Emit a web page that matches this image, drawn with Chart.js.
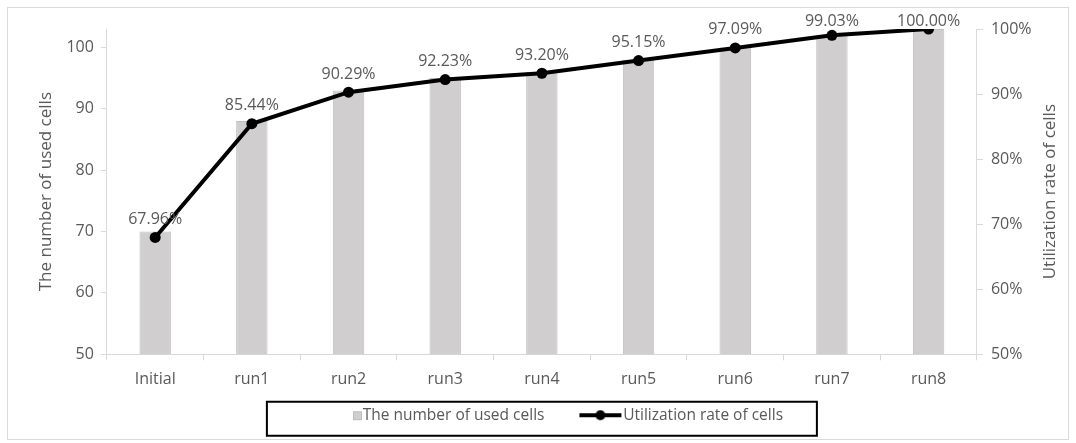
<!DOCTYPE html>
<html lang="en">
<head>
  <meta charset="UTF-8" />
  <title>Used cells and utilization rate</title>
  <script src="https://cdn.jsdelivr.net/npm/chart.js"></script>
  <style>
    html, body { margin: 0; padding: 0; background: #fff; }
    .quadro { position: absolute; left: 0; top: 0; width: 1076px; height: 443px; }
    .moldura { position: absolute; left: 7px; top: 7px; width: 1062px; height: 433px; border: 1px solid #d9d9d9; box-sizing: border-box; }
    .quadro canvas { position: absolute; left: 0; top: 0; }
  </style>
</head>
<body>
  <div class="quadro">
    <div class="moldura"></div>
    <canvas id="grafico" width="1076" height="443"></canvas>
  </div>

  <script>
    // dados
    const categorias = ['Initial', 'run1', 'run2', 'run3', 'run4', 'run5', 'run6', 'run7', 'run8'];
    const celulasUsadas = [70, 88, 93, 95, 96, 98, 100, 102, 103];
    const taxaUso = [67.96, 85.44, 90.29, 92.23, 93.20, 95.15, 97.09, 99.03, 100.00];
    const ticksEsquerda = [50, 60, 70, 80, 90, 100];
    const ticksDireita = [50, 60, 70, 80, 90, 100];

    const cinzaTexto = '#595959';
    const fonte = "'Open Sans', sans-serif";
    const larguraIcone = 68;

    // icones da legenda (mesma largura para os dois, como no excel)
    function iconeBarra() {
      const c = document.createElement('canvas');
      c.width = larguraIcone + 16; c.height = 12;
      const g = c.getContext('2d');
      g.fillStyle = '#d0cece';
      g.fillRect(74.5, 2.5, 8, 8);
      g.strokeStyle = '#bfbfbf';
      g.lineWidth = 1;
      g.strokeRect(74.5, 2.5, 8, 8);
      return c;
    }
    function iconeLinha() {
      const c = document.createElement('canvas');
      c.width = larguraIcone + 16; c.height = 12;
      const g = c.getContext('2d');
      g.strokeStyle = '#000';
      g.lineWidth = 4;
      g.beginPath(); g.moveTo(40, 6); g.lineTo(82, 6); g.stroke();
      g.fillStyle = '#000';
      g.beginPath(); g.arc(61, 6, 5, 0, Math.PI * 2); g.fill();
      return c;
    }

    // rotulos de porcentagem acima dos pontos
    const rotulosPlugin = {
      id: 'rotulos',
      afterDatasetsDraw(chart) {
        const meta = chart.getDatasetMeta(1);
        const ctx = chart.ctx;
        ctx.save();
        ctx.font = '16px ' + fonte;
        ctx.fillStyle = cinzaTexto;
        ctx.textAlign = 'center';
        ctx.textBaseline = 'middle';
        meta.data.forEach((p, i) => {
          ctx.fillText(taxaUso[i].toFixed(2) + '%', p.x, Math.max(p.y - 18, 21));
        });
        ctx.restore();
      }
    };

    // titulo do eixo direito lido de baixo para cima + caixa da legenda
    const extrasPlugin = {
      id: 'extras',
      afterDraw(chart) {
        const area = chart.chartArea;
        const ctx = chart.ctx;
        const eixo = chart.scales.y1;
        ctx.save();
        ctx.translate(eixo.right - 10, (area.top + area.bottom) / 2);
        ctx.rotate(-Math.PI / 2);
        ctx.font = '17px ' + fonte;
        ctx.fillStyle = cinzaTexto;
        ctx.textAlign = 'center';
        ctx.textBaseline = 'middle';
        ctx.fillText('Utilization rate of cells', 0, 0);
        ctx.restore();

        const lg = chart.legend;
        const cx = (area.left + area.right) / 2;
        const cy = lg.top + lg.height / 2;
        ctx.save();
        ctx.strokeStyle = '#000';
        ctx.lineWidth = 2;
        ctx.strokeRect(cx - 275, cy - 17, 550, 34);
        ctx.restore();
      }
    };

    const ctx = document.getElementById('grafico').getContext('2d');
    const grafico = new Chart(ctx, {
      data: {
        labels: categorias,
        datasets: [
          {
            type: 'bar',
            label: 'The number of used cells',
            data: celulasUsadas,
            backgroundColor: '#d0cece',
            borderColor: '#bfbfbf',
            borderWidth: 1,
            barPercentage: 0.65,
            categoryPercentage: 0.5,
            yAxisID: 'y',
            order: 2
          },
          {
            type: 'line',
            label: 'Utilization rate of cells',
            data: taxaUso,
            borderColor: '#000',
            backgroundColor: '#000',
            borderWidth: 4,
            pointRadius: 5.5,
            pointBackgroundColor: '#000',
            pointBorderWidth: 0,
            tension: 0,
            yAxisID: 'y1',
            order: 1
          }
        ]
      },
      options: {
        responsive: false,
        animation: false,
        layout: {
          padding: { left: 10, right: 16, top: 29, bottom: 10 }
        },
        plugins: {
          tooltip: { enabled: false },
          legend: {
            position: 'bottom',
            labels: {
              color: cinzaTexto,
              font: { family: fonte, size: 15.5 },
              usePointStyle: true,
              pointStyleWidth: larguraIcone,
              boxHeight: 12,
              padding: 3,
              generateLabels(chart) {
                return [
                  { text: chart.data.datasets[0].label, pointStyle: iconeBarra(), fontColor: cinzaTexto, datasetIndex: 0, lineWidth: 0, strokeStyle: 'transparent', fillStyle: 'transparent' },
                  { text: chart.data.datasets[1].label, pointStyle: iconeLinha(), fontColor: cinzaTexto, datasetIndex: 1, lineWidth: 0, strokeStyle: 'transparent', fillStyle: 'transparent' }
                ];
              }
            }
          }
        },
        scales: {
          x: {
            offset: true,
            afterFit(scale) {
              scale.height += 5;
            },
            grid: {
              display: true,
              drawOnChartArea: false,
              drawTicks: true,
              tickLength: 6,
              color: '#d9d9d9',
              offset: true
            },
            border: { color: '#d9d9d9', width: 1 },
            ticks: { color: cinzaTexto, font: { family: fonte, size: 16 }, padding: 10 }
          },
          y: {
            position: 'left',
            min: 50,
            max: 103,
            afterBuildTicks(scale) {
              scale.ticks = ticksEsquerda.map(v => ({ value: v }));
            },
            grid: {
              display: true,
              drawOnChartArea: false,
              drawTicks: true,
              tickLength: 6,
              color: '#d9d9d9'
            },
            border: { color: '#d9d9d9', width: 1 },
            ticks: { color: cinzaTexto, font: { family: fonte, size: 16 }, padding: 7 },
            title: {
              display: true,
              text: 'The number of used cells',
              color: cinzaTexto,
              font: { family: fonte, size: 17 },
              padding: { top: 26, bottom: 3 }
            }
          },
          y1: {
            position: 'right',
            min: 50,
            max: 100,
            afterBuildTicks(scale) {
              scale.ticks = ticksDireita.map(v => ({ value: v }));
            },
            grid: {
              display: true,
              drawOnChartArea: false,
              drawTicks: true,
              tickLength: 6,
              color: '#d9d9d9'
            },
            border: { color: '#d9d9d9', width: 1 },
            ticks: {
              color: cinzaTexto,
              font: { family: fonte, size: 16 },
              padding: 8,
              callback: v => v + '%'
            },
            title: {
              display: true,
              text: 'Utilization rate of cells',
              color: 'transparent',
              font: { family: fonte, size: 17 },
              padding: { top: 0, bottom: 0 }
            }
          }
        }
      },
      plugins: [rotulosPlugin, extrasPlugin]
    });
  </script>
</body>
</html>
